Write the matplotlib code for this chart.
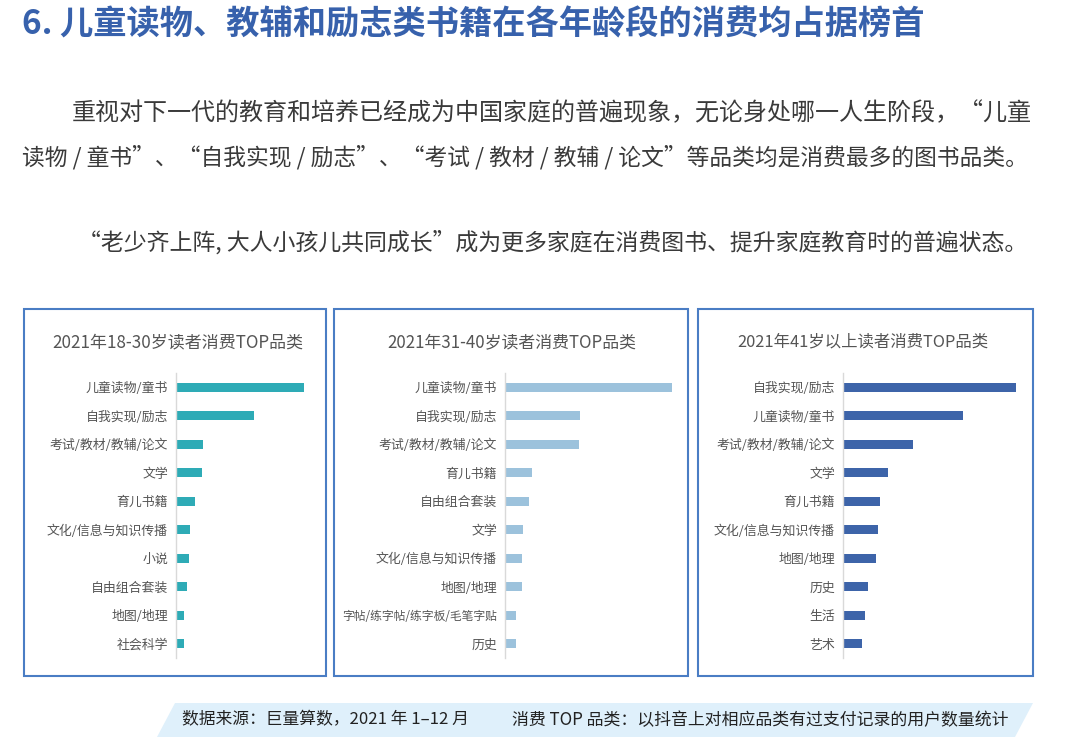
import matplotlib
matplotlib.use("Agg")
import matplotlib.pyplot as plt
from matplotlib.patches import Rectangle, Polygon

plt.rcParams['font.family'] = ['Noto Sans CJK SC', 'DejaVu Sans']

# ---------------- data ----------------
title_main = "6. 儿童读物、教辅和励志类书籍在各年龄段的消费均占据榜首"
para_line1 = "重视对下一代的教育和培养已经成为中国家庭的普遍现象，无论身处哪一人生阶段，“儿童"
para_line2 = "读物 / 童书”、“自我实现 / 励志”、“考试 / 教材 / 教辅 / 论文”等品类均是消费最多的图书品类。"
para_line3 = "“老少齐上阵, 大人小孩儿共同成长”成为更多家庭在消费图书、提升家庭教育时的普遍状态。"
footer_left = "数据来源：巨量算数，2021 年 1–12 月"
footer_right = "消费 TOP 品类：以抖音上对相应品类有过支付记录的用户数量统计"

titles = ["2021年18-30岁读者消费TOP品类",
          "2021年31-40岁读者消费TOP品类",
          "2021年41岁以上读者消费TOP品类"]

cats_18_30 = ["儿童读物/童书", "自我实现/励志", "考试/教材/教辅/论文", "文学", "育儿书籍",
              "文化/信息与知识传播", "小说", "自由组合套装", "地图/地理", "社会科学"]
vals_18_30 = [128, 78, 27, 26, 19, 14, 13, 11, 8.5, 8]

cats_31_40 = ["儿童读物/童书", "自我实现/励志", "考试/教材/教辅/论文", "育儿书籍", "自由组合套装",
              "文学", "文化/信息与知识传播", "地图/地理", "字帖/练字帖/练字板/毛笔字贴", "历史"]
vals_31_40 = [168, 75, 74, 27, 24, 18, 17, 17, 11, 11]

cats_41 = ["自我实现/励志", "儿童读物/童书", "考试/教材/教辅/论文", "文学", "育儿书籍",
           "文化/信息与知识传播", "地图/地理", "历史", "生活", "艺术"]
vals_41 = [173, 120, 70, 45, 37, 35, 33, 25, 22, 19]

# ---------------- layout ----------------
W, H = 1071, 751
fig = plt.figure(figsize=(W / 100, H / 100), dpi=100)
fig.patch.set_facecolor("white")
renderer = fig.canvas.get_renderer()


def fx(x):
    return x / W


def fy(y):
    return 1 - y / H


def fit_text(t, left_px, right_px):
    """Scale the font size so the text spans left_px..right_px."""
    for _ in range(3):
        bb = t.get_window_extent(renderer=renderer)
        t.set_fontsize(t.get_fontsize() * (right_px - left_px) / bb.width)


blue_title = "#3761AC"
text_dark = "#3a3a3a"

t = fig.text(fx(22), fy(25), title_main, fontsize=24, fontweight="bold",
             color=blue_title, ha="left", va="center")
fit_text(t, 22, 925)

for txt, l, r, y in [(para_line1, 72, 1033, 113), (para_line2, 22, 1030, 157),
                     (para_line3, 78, 1030, 242)]:
    t = fig.text(fx(l), fy(y), txt, fontsize=17, color=text_dark, ha="left", va="center")
    fit_text(t, l, r)

# panel borders
border_col = "#4A7DC4"
panels = [(24, 326), (334, 688), (698, 1033)]
for (l, r) in panels:
    fig.patches.append(Rectangle((fx(l), fy(676)), fx(r) - fx(l), fy(309) - fy(676),
                                 transform=fig.transFigure, fill=False,
                                 edgecolor=border_col, linewidth=1.5))

panel_data = [
    (cats_18_30, vals_18_30, "#2EABB6", 175.5, 52, 303),
    (cats_31_40, vals_31_40, "#9CC2DC", 504.5, 387, 636),
    (cats_41, vals_41, "#3D64A9", 842.5, 737, 988),
]
ax_top, ax_bot = 373, 658
ax_w = 185
for (cats, vals, col, axl, tl, tr), ttl in zip(panel_data, titles):
    t = fig.text(fx(tl), fy(342), ttl, fontsize=12, color="#555555", ha="left", va="center")
    fit_text(t, tl, tr)
    ax = fig.add_axes([fx(axl), fy(ax_bot), ax_w / W, (ax_bot - ax_top) / H])
    ypos = list(range(len(cats)))
    ax.barh(ypos, vals, height=0.32, color=col)
    ax.set_xlim(0, ax_w)
    ax.set_ylim(len(cats) - 0.5, -0.5)
    ax.set_yticks(ypos)
    ax.set_yticklabels(cats, fontsize=9.3, color="#555555")
    for lab in ax.get_yticklabels():
        if len(lab.get_text()) > 12:
            lab.set_fontsize(8.5)
    ax.tick_params(axis="y", length=0, pad=5.5)
    ax.set_xticks([])
    for s in ["top", "right", "bottom"]:
        ax.spines[s].set_visible(False)
    ax.spines["left"].set_color("#D9D9D9")
    ax.spines["left"].set_linewidth(1.0)
    ax.patch.set_alpha(0)

# footer band
band = Polygon([(fx(175), fy(703)), (fx(1033), fy(703)), (fx(1015), fy(737)), (fx(157), fy(737))],
               closed=True, transform=fig.transFigure, facecolor="#DFF0FB", edgecolor="none")
fig.patches.append(band)
t = fig.text(fx(182), fy(720), footer_left, fontsize=12, color="#222222", ha="left", va="center")
fit_text(t, 182, 470)
t = fig.text(fx(512), fy(720), footer_right, fontsize=12, color="#222222", ha="left", va="center")
fit_text(t, 512, 1007)

fig.savefig("out.png", dpi=100)
